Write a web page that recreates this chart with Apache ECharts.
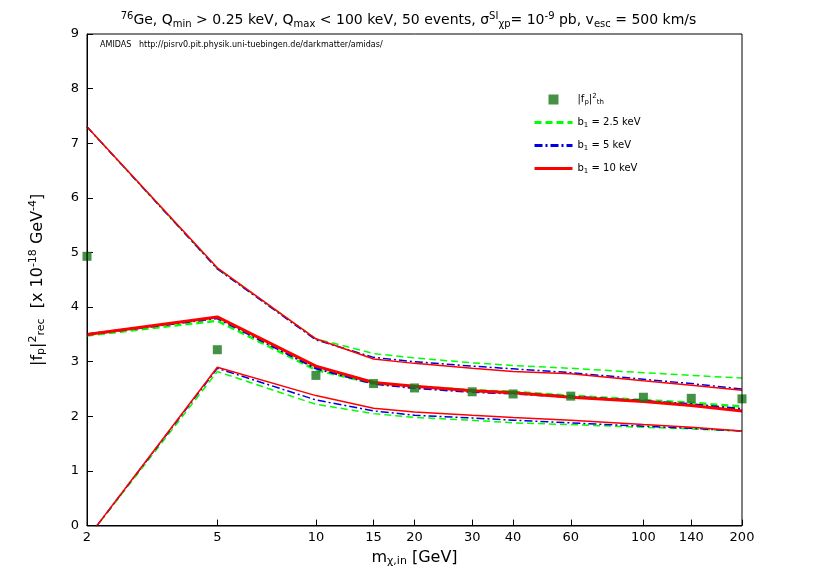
<!DOCTYPE html><html><head><meta charset="utf-8"><script src="https://cdn.jsdelivr.net/npm/echarts@6/dist/echarts.min.js"></script>
<style>body{margin:0}#c{width:817px;height:572px}</style></head><body><div id="c"></div><script>
const masses=[2,5,10,15,20,30,40,60,100,140,200];
const xTicks=[2,5,10,15,20,30,40,60,100,140,200];
const fTh=[4.93,3.22,2.75,2.6,2.52,2.45,2.41,2.37,2.35,2.33,2.32];
const g_up=[7.3,4.7,3.42,3.15,3.07,2.98,2.93,2.88,2.8,2.75,2.7];
const g_mid=[3.48,3.75,2.85,2.6,2.55,2.48,2.45,2.38,2.3,2.25,2.18];
const g_lo=[-0.24,2.82,2.22,2.05,1.98,1.93,1.88,1.85,1.8,1.77,1.73];
const b_up=[7.3,4.7,3.4,3.08,3.0,2.92,2.87,2.8,2.68,2.6,2.5];
const b_mid=[3.5,3.8,2.88,2.6,2.52,2.45,2.42,2.36,2.28,2.22,2.13];
const b_lo=[-0.24,2.88,2.3,2.1,2.02,1.97,1.93,1.88,1.82,1.78,1.73];
const r_up=[7.3,4.72,3.42,3.05,2.97,2.88,2.82,2.78,2.65,2.57,2.48];
const r_mid=[3.5,3.82,2.92,2.62,2.55,2.47,2.43,2.35,2.27,2.2,2.1];
const r_lo=[-0.24,2.9,2.38,2.15,2.08,2.02,1.98,1.93,1.85,1.8,1.73];
const L=Math.log10;
const pts=v=>masses.map((m,i)=>[L(m),v[i]]);
const G='#00ff00',B='#0000dd',R='#ff0000',DG='#177517';
function ln(name,v,c,w,type){return {name,type:'line',data:pts(v),symbol:'none',lineStyle:{color:c,width:w,type},itemStyle:{color:c},z:type==='solid'?4:3,clip:true};}
const dashG=[7,4],dashB=[8,3,2,3];
const c=echarts.init(document.getElementById('c'));
c.setOption({animation:false,backgroundColor:'#fff',
textStyle:{fontFamily:'DejaVu Sans',color:'#000'},
title:{left:'center',top:6,text:'{sup|76}Ge, Q{sub|min} > 0.25 keV, Q{sub|max} < 100 keV, 50 events, σ{sup|SI}{sub|χp}= 10{sup|-9} pb, v{sub|esc} = 500 km/s',
 textStyle:{fontSize:14,fontWeight:'normal',color:'#000',fontFamily:'DejaVu Sans',rich:{sub:{fontSize:10,color:'#000',padding:[8,0,0,0]},sup:{fontSize:10,color:'#000',padding:[0,0,8,0]}}}},
grid:{left:87,right:75,top:34,bottom:46},
legend:{orient:'vertical',left:528,top:88,itemGap:12,itemWidth:38,itemHeight:10,symbolKeepAspect:true,
 data:[{name:'th',icon:'path://M0,0h10v10h-10z',itemStyle:{color:DG}},
  {name:'b1 = 2.5 keV',itemStyle:{opacity:0},lineStyle:{width:3}},
  {name:'b1 = 5 keV',itemStyle:{opacity:0},lineStyle:{width:3}},
  {name:'b1 = 10 keV',itemStyle:{opacity:0},lineStyle:{width:3}}],
 formatter:n=>n==='th'?'|f{s|p}|{t|2}{s|th}':n.replace('b1','b{s|1}'),
 textStyle:{fontSize:10,color:'#000',rich:{s:{fontSize:7,color:'#000',padding:[5,0,0,0]},t:{fontSize:7,color:'#000',padding:[0,0,6,0]}}}},
xAxis:{type:'value',min:L(2),max:L(200),splitLine:{show:false},
 axisLine:{onZero:false,lineStyle:{color:'#000'}},axisTick:{inside:true,length:6,customValues:xTicks.map(L),lineStyle:{color:'#000'}},
 axisLabel:{customValues:xTicks.map(L),formatter:v=>String(Math.round(Math.pow(10,v))),fontSize:13,color:'#000',margin:6},
 name:'m{s|χ,in} [GeV]',nameLocation:'middle',nameGap:22,nameTextStyle:{fontSize:16,color:'#000',rich:{s:{fontSize:11,color:'#000',padding:[8,0,0,0]}}}},
yAxis:{type:'value',min:0,max:9,interval:1,splitLine:{show:false},
 axisLine:{lineStyle:{color:'#000'}},axisTick:{inside:true,length:6,lineStyle:{color:'#000'}},
 axisLabel:{fontSize:13,color:'#000'},
 name:'|f{s|p}|{t|2}{s|rec}  [x 10{t|-18} GeV{t|-4}]',nameLocation:'middle',nameGap:40,nameRotate:90,
 nameTextStyle:{fontSize:16,color:'#000',rich:{s:{fontSize:11,color:'#000',padding:[8,0,0,0]},t:{fontSize:11,color:'#000',padding:[0,0,8,0]}}}},
graphic:[{type:'rect',shape:{x:87,y:34,width:655,height:492},style:{fill:'none',stroke:'#000',lineWidth:1},z:10},
 {type:'text',left:100,top:41,style:{text:'AMIDAS   http://pisrv0.pit.physik.uni-tuebingen.de/darkmatter/amidas/',fontSize:8,fill:'#000',fontFamily:'DejaVu Sans'}}],
series:[
 ln('b1 = 2.5 keV',g_mid,G,2.5,dashG),ln('g_up',g_up,G,1.5,dashG),ln('g_lo',g_lo,G,1.5,dashG),
 ln('b1 = 5 keV',b_mid,B,2.5,dashB),ln('b_up',b_up,B,1.5,dashB),ln('b_lo',b_lo,B,1.5,dashB),
 ln('b1 = 10 keV',r_mid,R,3,'solid'),ln('r_up',r_up,R,1.5,'solid'),ln('r_lo',r_lo,R,1.5,'solid'),
 {name:'th',type:'scatter',data:pts(fTh),symbol:'rect',symbolSize:9,itemStyle:{color:DG},z:6,clip:false}
]});
</script></body></html>
